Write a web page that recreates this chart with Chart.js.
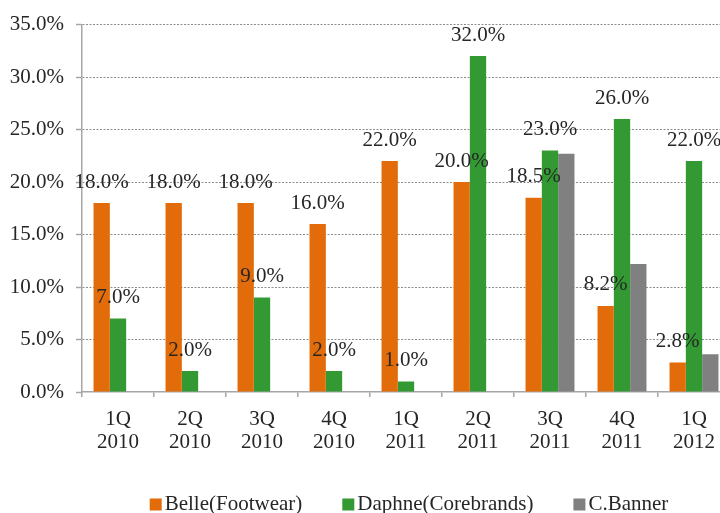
<!DOCTYPE html>
<html>
<head>
<meta charset="utf-8">
<script src="https://cdn.jsdelivr.net/npm/chart.js@4"></script>
<style>
  html, body { margin: 0; padding: 0; background: #fff; overflow: hidden; }
  #chart { display: block; }
</style>
</head>
<body>
<canvas id="chart" width="730" height="513"></canvas>
<script>
// quarters, two-line labels
const quarters = [
    ['1Q', '2010'], ['2Q', '2010'], ['3Q', '2010'], ['4Q', '2010'],
    ['1Q', '2011'], ['2Q', '2011'], ['3Q', '2011'], ['4Q', '2011'],
    ['1Q', '2012']
];
const seriesNames = ['Belle(Footwear)', 'Daphne(Corebrands)', 'C.Banner'];
const belle = [18.0, 18.0, 18.0, 16.0, 22.0, 20.0, 18.5, 8.2, 2.8];
const daphne = [7.0, 2.0, 9.0, 2.0, 1.0, 32.0, 23.0, 26.0, 22.0];
const cBanner = [null, null, null, null, null, null, 22.7, 12.2, 3.6];
const seriesColors = ['#e36c0a', '#339933', '#808080'];
const showLabels = [true, true, false];
const yMax = 35;
const yStep = 5;

const FONT = '"Liberation Serif", "Times New Roman", serif';
const FONT_SIZE = 21;
const TEXT = '#262626';
const AXIS = '#a6a6a6';

// value labels above the bars (no datalabels plugin offline)
const valueLabels = {
    id: 'valueLabels',
    afterDatasetsDraw(chart) {
        const ctx = chart.ctx;
        ctx.save();
        ctx.font = FONT_SIZE + 'px ' + FONT;
        ctx.fillStyle = TEXT;
        ctx.textAlign = 'center';
        ctx.textBaseline = 'middle';
        chart.data.datasets.forEach((ds, i) => {
            if (!showLabels[i]) return;
            chart.getDatasetMeta(i).data.forEach((bar, j) => {
                const v = ds.data[j];
                if (v == null) return;
                ctx.fillText(v.toFixed(1) + '%', bar.x, bar.y - 21);
            });
        });
        ctx.restore();
    }
};

// legend drawn by hand so the spacing matches the original
const bottomLegend = {
    id: 'bottomLegend',
    afterDraw(chart) {
        const ctx = chart.ctx;
        const box = 12, gap = 3, itemGap = 40;
        ctx.save();
        ctx.font = FONT_SIZE + 'px ' + FONT;
        ctx.textBaseline = 'middle';
        ctx.textAlign = 'left';
        const widths = chart.data.datasets.map(ds => box + gap + ctx.measureText(ds.label).width);
        const total = widths.reduce((a, b) => a + b, 0) + itemGap * (widths.length - 1);
        let x = 409 - total / 2;
        const yMid = 504;
        chart.data.datasets.forEach((ds, i) => {
            ctx.fillStyle = ds.backgroundColor;
            ctx.fillRect(x, yMid - 5.5, box, box);
            ctx.fillStyle = TEXT;
            ctx.fillText(ds.label, x + box + gap, yMid);
            x += widths[i] + itemGap;
        });
        ctx.restore();
    }
};

new Chart(document.getElementById('chart'), {
    type: 'bar',
    data: {
        labels: quarters,
        datasets: [belle, daphne, cBanner].map((d, i) => ({
            label: seriesNames[i],
            data: d,
            backgroundColor: seriesColors[i],
            borderWidth: 0,
            barPercentage: 1,
            categoryPercentage: 0.68
        }))
    },
    options: {
        responsive: false,
        animation: false,
        layout: { padding: { top: 22, right: 0, bottom: 0, left: 0 } },
        plugins: {
            legend: { display: false },
            tooltip: { enabled: false }
        },
        scales: {
            x: {
                offset: true,
                grid: {
                    offset: true,
                    drawOnChartArea: false,
                    drawTicks: true,
                    tickLength: 5,
                    color: AXIS,
                    tickColor: AXIS,
                    lineWidth: 1.5
                },
                border: { display: true, color: AXIS, width: 1.5 },
                ticks: {
                    color: TEXT,
                    font: { family: FONT, size: FONT_SIZE, lineHeight: 1.08 },
                    padding: 11,
                    maxRotation: 0,
                    autoSkip: false
                },
                afterFit(scale) { scale.height = 121; }
            },
            y: {
                min: 0,
                max: yMax,
                grid: {
                    color: ctx => (ctx.tick && ctx.tick.value === 0) ? 'rgba(0,0,0,0)' : '#8c8c8c',
                    lineWidth: 1,
                    tickLength: 6,
                    tickColor: AXIS,
                    tickWidth: 1.5,
                    tickBorderDash: []
                },
                border: { display: true, color: AXIS, width: 1.5, dash: [2, 1.5] },
                ticks: {
                    stepSize: yStep,
                    color: TEXT,
                    font: { family: FONT, size: FONT_SIZE },
                    padding: 12,
                    callback: v => v.toFixed(1) + '%'
                },
                afterFit(scale) { scale.width = 82; }
            }
        }
    },
    plugins: [valueLabels, bottomLegend]
});
</script>
</body>
</html>
